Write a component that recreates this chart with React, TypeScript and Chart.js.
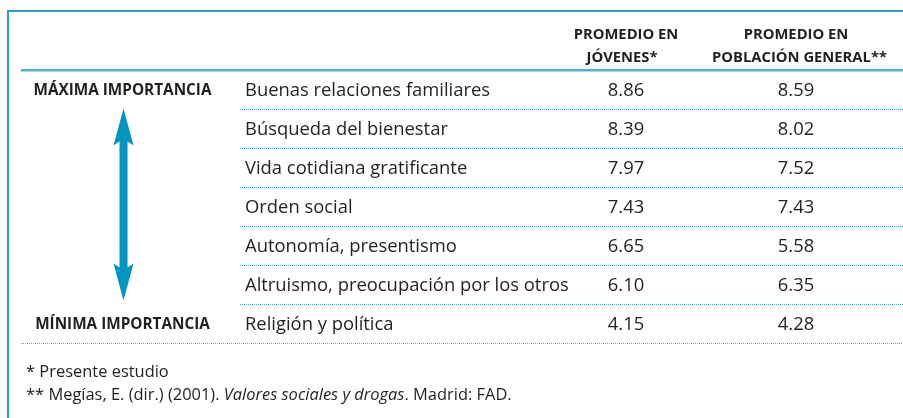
import React, { useEffect, useRef } from 'react';
import { Chart, registerables } from 'chart.js';

Chart.register(...registerables);

// ---- Data ----
const categories: string[] = [
  'Buenas relaciones familiares',
  'Búsqueda del bienestar',
  'Vida cotidiana gratificante',
  'Orden social',
  'Autonomía, presentismo',
  'Altruismo, preocupación por los otros',
  'Religión y política',
];
const jovenes: number[] = [8.86, 8.39, 7.97, 7.43, 6.65, 6.1, 4.15];
const poblacionGeneral: number[] = [8.59, 8.02, 7.52, 7.43, 5.58, 6.35, 4.28];
const headerJovenes: string[] = ['PROMEDIO EN', 'JÓVENES*'];
const headerGeneral: string[] = ['PROMEDIO EN', 'POBLACIÓN GENERAL**'];
const scaleLabels: string[] = ['MÁXIMA IMPORTANCIA', 'MÍNIMA IMPORTANCIA'];
const footnote1: string = '* Presente estudio';
const footnote2: string[] = ['** Megías, E. (dir.) (2001).', 'Valores sociales y drogas', '. Madrid: FAD.'];

// ---- Layout constants (pixels on the linear x scale) ----
const W = 903;
const H = 418;
const X_LABEL = 245;
const X_JOV = 626;
const X_GEN = 796;
const X_ARROW = 123.5;
const FAMILY = '"Open Sans", Lato, sans-serif';
const TEAL = '#2b9fc1';
const TEAL_LIGHT = '#4db3d1';
const DOT = '#3cb0d0';
const ARROW = '#0096bf';
const TEXT = '#231f20';

function fitFont(ctx: CanvasRenderingContext2D, text: string, target: number, prefix: string): string {
  ctx.font = `${prefix} 20px ${FAMILY}`;
  const w = ctx.measureText(text).width;
  const size = (20 * target) / w;
  return `${prefix} ${size.toFixed(2)}px ${FAMILY}`;
}

const tablePlugin = {
  id: 'tablePlugin',
  afterDatasetsDraw(chart: any) {
    const ctx: CanvasRenderingContext2D = chart.ctx;
    const area = chart.chartArea;
    const ys = chart.scales.y;
    const n = categories.length;
    const rowY = (i: number) => ys.getPixelForValue(i);
    const boundary = (i: number) => (rowY(i) + rowY(i + 1)) / 2;

    ctx.save();
    // frame (left + top)
    ctx.fillStyle = TEAL;
    ctx.fillRect(7, 10, 2, H - 10);
    ctx.fillRect(7, 10, W - 7, 2);

    // header solid line
    ctx.fillStyle = TEAL_LIGHT;
    ctx.fillRect(21, Math.round(area.top) - 1, W - 21, 2.5);

    // dotted row separators
    ctx.strokeStyle = DOT;
    ctx.lineWidth = 1;
    ctx.setLineDash([1, 1]);
    for (let i = 0; i < n; i++) {
      const y = i < n - 1 ? Math.round(boundary(i)) + 0.5 : Math.round(area.bottom) + 0.5;
      const x0 = i < n - 1 ? 240 : 21;
      ctx.beginPath();
      ctx.moveTo(x0, y);
      ctx.lineTo(W, y);
      ctx.stroke();
    }
    ctx.setLineDash([]);

    // headers
    ctx.fillStyle = TEXT;
    ctx.textBaseline = 'alphabetic';
    ctx.textAlign = 'center';
    ctx.font = fitFont(ctx, headerGeneral[1], 175, 'bold');
    ctx.fillText(headerJovenes[0], X_JOV, 39);
    ctx.fillText(headerJovenes[1], X_JOV - 4, 62);
    ctx.fillText(headerGeneral[0], X_GEN, 39);
    ctx.fillText(headerGeneral[1], X_GEN + 3.5, 62);

    // importance labels
    ctx.font = fitFont(ctx, scaleLabels[0], 178, 'bold');
    ctx.fillText(scaleLabels[0], 122.5, rowY(0) + 6);
    ctx.fillText(scaleLabels[1], 122.5, rowY(n - 1) + 6);

    // double arrow
    const top = boundary(0);
    const bot = boundary(n - 2) - 3;
    const headLen = 37;
    const headW = 10;
    const notch = 4;
    const shaftW = 4;
    ctx.fillStyle = ARROW;
    ctx.beginPath();
    ctx.moveTo(X_ARROW, top);
    ctx.lineTo(X_ARROW + headW, top + headLen);
    ctx.lineTo(X_ARROW + shaftW, top + headLen - notch);
    ctx.lineTo(X_ARROW + shaftW, bot - headLen + notch);
    ctx.lineTo(X_ARROW + headW, bot - headLen);
    ctx.lineTo(X_ARROW, bot);
    ctx.lineTo(X_ARROW - headW, bot - headLen);
    ctx.lineTo(X_ARROW - shaftW, bot - headLen + notch);
    ctx.lineTo(X_ARROW - shaftW, top + headLen - notch);
    ctx.lineTo(X_ARROW - headW, top + headLen);
    ctx.closePath();
    ctx.fill();

    // cells from dataset elements
    ctx.fillStyle = TEXT;
    ctx.font = fitFont(ctx, categories[5], 324, 'normal');
    chart.data.datasets.forEach((ds: any, di: number) => {
      const meta = chart.getDatasetMeta(di);
      meta.data.forEach((pt: any, i: number) => {
        const raw = ds.data[i];
        if (di === 0) {
          ctx.textAlign = 'left';
          ctx.fillText(raw.y, pt.x, pt.y + 6.5);
        } else {
          ctx.textAlign = 'center';
          ctx.fillText(Number(raw.v).toFixed(2), pt.x, pt.y + 6.5);
        }
      });
    });

    // footnotes: fit the second line to its measured width
    ctx.textAlign = 'left';
    ctx.font = `normal 20px ${FAMILY}`;
    let w20 = ctx.measureText(footnote2[0] + ' ').width + ctx.measureText(footnote2[2]).width;
    ctx.font = `italic 20px ${FAMILY}`;
    w20 += ctx.measureText(footnote2[1]).width;
    const fs = ((20 * 486) / w20).toFixed(2);
    const fnFont = `normal ${fs}px ${FAMILY}`;
    const fnItalic = `italic ${fs}px ${FAMILY}`;
    ctx.font = fnFont;
    ctx.fillText(footnote1, 26, 377);
    let x = 26;
    ctx.fillText(footnote2[0], x, 400);
    x += ctx.measureText(footnote2[0] + ' ').width;
    ctx.font = fnItalic;
    ctx.fillText(footnote2[1], x, 400);
    x += ctx.measureText(footnote2[1]).width;
    ctx.font = fnFont;
    ctx.fillText(footnote2[2], x, 400);
    ctx.restore();
  },
};

export default function App() {
  const ref = useRef<HTMLCanvasElement | null>(null);
  useEffect(() => {
    if (!ref.current) return;
    const chart = new Chart(ref.current, {
      type: 'scatter',
      data: {
        datasets: [
          { label: 'Categoría', data: categories.map((c) => ({ x: X_LABEL, y: c })) as any },
          { label: 'Promedio en jóvenes', data: jovenes.map((v, i) => ({ x: X_JOV, y: categories[i], v })) as any },
          { label: 'Promedio en población general', data: poblacionGeneral.map((v, i) => ({ x: X_GEN, y: categories[i], v })) as any },
        ],
      },
      options: {
        animation: false,
        responsive: false,
        devicePixelRatio: 1,
        layout: { padding: { top: 69.5, bottom: 75.5, left: 0, right: 0 } },
        elements: { point: { radius: 0, hoverRadius: 0 } },
        scales: {
          x: { type: 'linear', min: 0, max: W, display: false },
          y: { type: 'category', labels: categories, offset: true, display: false },
        },
        plugins: { legend: { display: false }, tooltip: { enabled: false } },
      },
      plugins: [tablePlugin],
    });
    return () => chart.destroy();
  }, []);
  return (
    <div style={{ position: 'absolute', left: 0, top: 0, width: W, height: H, background: '#fff' }}>
      <canvas ref={ref} width={W} height={H} style={{ display: 'block' }} />
    </div>
  );
}
